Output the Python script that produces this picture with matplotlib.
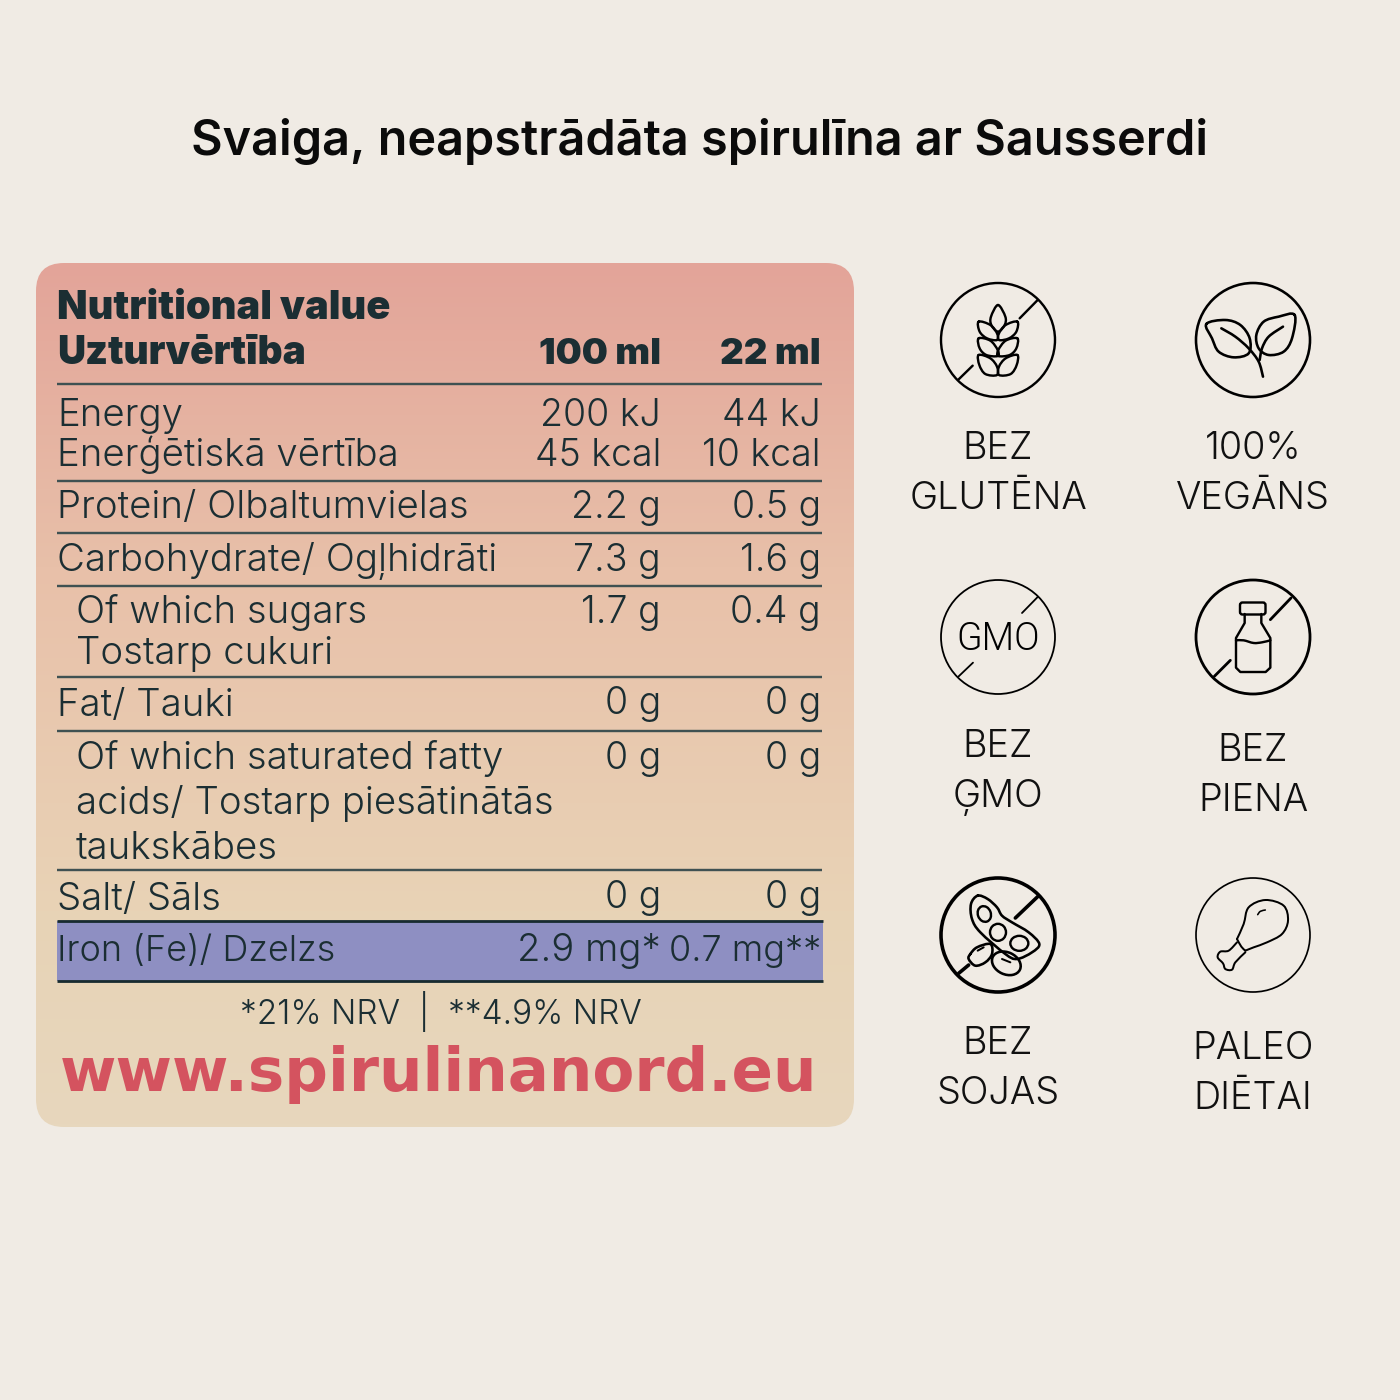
import numpy as np
import matplotlib
matplotlib.use("Agg")
import matplotlib.pyplot as plt
from matplotlib.patches import FancyBboxPatch, Circle, PathPatch, Ellipse, Rectangle
from matplotlib.path import Path
from matplotlib.colors import LinearSegmentedColormap

BG = "#F0EBE4"
INK = "#1B2E33"
RULE = "#3F5152"
BODY_FONT = "Inter"
PX = 0.72  # one image pixel in points

title = "Svaiga, neapstrādāta spirulīna ar Sausserdi"
header_lines = ["Nutritional value", "Uzturvērtība"]
header_cols = ["100 ml", "22 ml"]

row_labels = [
    (57, 426, "Energy"), (57, 466, "Enerģētiskā vērtība"),
    (57, 518, "Protein/ Olbaltumvielas"),
    (57, 571, "Carbohydrate/ Ogļhidrāti"),
    (76, 623, "Of which sugars"), (76, 664, "Tostarp cukuri"),
    (57, 716, "Fat/ Tauki"),
    (76, 769, "Of which saturated fatty"), (76, 814, "acids/ Tostarp piesātinātās"), (76, 859, "taukskābes"),
    (57, 910, "Salt/ Sāls"),
]
iron_label = "Iron (Fe)/ Dzelzs"
values_100 = [(426, "200 kJ"), (466, "45 kcal"), (518, "2.2 g"), (571, "7.3 g"), (623, "1.7 g"),
              (714, "0 g"), (769, "0 g"), (908, "0 g")]
values_22 = [(426, "44 kJ"), (466, "10 kcal"), (518, "0.5 g"), (571, "1.6 g"), (623, "0.4 g"),
             (714, "0 g"), (769, "0 g"), (908, "0 g")]
iron_values = ["2.9 mg*", "0.7 mg**"]
rule_rows = [384, 481, 533, 586, 677, 731, 870]
footnote = "*21% NRV  |  **4.9% NRV"
website = "www.spirulinanord.eu"

captions = [
    (998, 459, "BEZ"), (998, 509, "GLUTĒNA"),
    (1253, 459, "100%"), (1253, 509, "VEGĀNS"),
    (998, 757, "BEZ"), (998, 807, "ĢMO"),
    (1253, 761, "BEZ"), (1253, 811, "PIENA"),
    (998, 1054, "BEZ"), (998, 1104, "SOJAS"),
    (1253, 1059, "PALEO"), (1253, 1109, "DIĒTAI"),
]

fig = plt.figure(figsize=(14, 14), dpi=100, facecolor=BG)
ax = fig.add_axes([0, 0, 1, 1])
ax.set_xlim(0, 1400)
ax.set_ylim(1400, 0)
ax.axis("off")


def smooth(pts, closed=True):
    # catmull-rom through the outline points, gives a bezier path
    pts = np.array(pts, dtype=float)
    n = len(pts)
    verts = [pts[0]]
    codes = [Path.MOVETO]
    for i in range(n if closed else n - 1):
        if closed:
            p0, p1, p2, p3 = pts[(i - 1) % n], pts[i], pts[(i + 1) % n], pts[(i + 2) % n]
        else:
            p0, p1, p2, p3 = pts[max(i - 1, 0)], pts[i], pts[i + 1], pts[min(i + 2, n - 1)]
        verts += [p1 + (p2 - p0) / 6, p2 - (p3 - p1) / 6, p2]
        codes += [Path.CURVE4] * 3
    return Path(verts, codes)


def draw(cx, cy, pts, lw, closed=True, straight=False):
    # pts are measured from the icon centre at 3x zoom
    pts = [(cx + x / 3, cy + y / 3) for x, y in pts]
    path = Path(pts) if straight else smooth(pts, closed)
    ax.add_patch(PathPatch(path, fc="none", ec="black", lw=lw * PX, capstyle="round", joinstyle="round"))


def mirror(pts):
    return [(-x, y) for x, y in pts]


def badge(cx, cy, lw, slash=None, slash_lw=None):
    ax.add_patch(Circle((cx, cy), 57, fc="none", ec="black", lw=lw * PX))
    if slash:
        draw(cx, cy, slash[0], slash_lw or lw, straight=True)
        draw(cx, cy, slash[1], slash_lw or lw, straight=True)


# card with vertical gradient
cmap = LinearSegmentedColormap.from_list("card", [(0, "#E3A499"), (0.35, "#E8C0A9"), (0.75, "#E8D3B6"), (1, "#E7D7BD")])
grad = np.linspace(0, 1, 256).reshape(-1, 1)
card = FancyBboxPatch((36 + 28, 263 + 28), 818 - 56, 864 - 56, boxstyle="round,pad=28,rounding_size=28",
                      fc="none", ec="none")
ax.add_patch(card)
im = ax.imshow(grad, cmap=cmap, extent=(36, 854, 1127, 263), aspect="auto", zorder=0)
im.set_clip_path(card)
ax.set_xlim(0, 1400)
ax.set_ylim(1400, 0)

# iron highlight
ax.add_patch(Rectangle((57, 921), 766, 60, fc="#8E8FC2", ec="none", zorder=1))

ax.text(700, 155, title, fontsize=35, fontweight=600, family=BODY_FONT, ha="center", va="baseline", color="#0B0B0B")

ax.text(57, 319, header_lines[0], fontsize=28.6, fontweight=900, family=BODY_FONT, color=INK, va="baseline", zorder=3)
ax.text(57, 364, header_lines[1], fontsize=28, fontweight=900, family=BODY_FONT, color=INK, va="baseline", zorder=3)
ax.text(661, 364, header_cols[0], fontsize=26.5, fontweight=900, family=BODY_FONT, color=INK, ha="right", va="baseline", zorder=3)
ax.text(821, 364, header_cols[1], fontsize=26.5, fontweight=900, family=BODY_FONT, color=INK, ha="right", va="baseline", zorder=3)

for y in rule_rows:
    ax.plot([57, 822], [y, y], color=RULE, lw=2.4 * PX, solid_capstyle="butt", zorder=2)
for y in [921, 981]:
    ax.plot([57, 823], [y, y], color="#182B30", lw=2.8 * PX, solid_capstyle="butt", zorder=2)

for x, y, label in row_labels:
    ax.text(x, y, label, fontsize=27.6, fontweight=300, family=BODY_FONT, color=INK, va="baseline", zorder=3)
for y, val in values_100:
    ax.text(661, y, val, fontsize=27, fontweight=300, family=BODY_FONT, color=INK, ha="right", va="baseline", zorder=3)
for y, val in values_22:
    ax.text(821, y, val, fontsize=27, fontweight=300, family=BODY_FONT, color=INK, ha="right", va="baseline", zorder=3)

ax.text(57, 961, iron_label, fontsize=26, fontweight=300, family=BODY_FONT, color=INK, va="baseline", zorder=3)
ax.text(661, 961, iron_values[0], fontsize=27.5, fontweight=300, family=BODY_FONT, color=INK, ha="right", va="baseline", zorder=3)
ax.text(821, 961, iron_values[1], fontsize=26, fontweight=300, family=BODY_FONT, color=INK, ha="right", va="baseline", zorder=3)

ax.text(440.5, 1024, footnote, fontsize=24, fontweight=300, family=BODY_FONT, color=INK, ha="center", va="baseline", zorder=3)
ax.text(439, 1091, website, fontsize=44, fontweight="bold", family="DejaVu Sans", color="#D4535F", ha="center", va="baseline", zorder=3)

for x, y, cap in captions:
    ax.text(x, y, cap, fontsize=27.2, fontweight=300, family=BODY_FONT, color="#111111", ha="center", va="baseline")

# gluten free
slash_a = ([(-118, 118), (-76, 77)], [(65, -65), (119, -120)])
badge(998, 340, 2.4, slash_a)
draw(998, 340, [(0, -105), (22, -70), (20, -45), (0, -25), (-20, -45), (-21, -70)], 2.4)
for leaf in ([(-58, -55), (-23, -45), (-3, -20), (-3, 0), (-33, -5), (-55, -25)],
             [(-58, -5), (-23, 2), (-1, 30), (-1, 48), (-35, 45), (-55, 25)],
             [(-58, 45), (-23, 55), (-3, 80), (-3, 105), (-38, 102), (-56, 75)]):
    draw(998, 340, leaf, 2.4)
    draw(998, 340, mirror(leaf), 2.4)

# vegan
badge(1253, 340, 2.6)
draw(1253, 340, [(-140, -48), (-83, -60), (-38, -45), (-10, -5), (-13, 40), (-58, 52), (-103, 35), (-123, -5)], 2.6)
draw(1253, 340, [(125, -75), (117, -5), (92, 35), (47, 45), (17, 25), (10, -15), (32, -55), (77, -70)], 2.6)
draw(1253, 340, [(30, 110), (17, 65), (-13, 25), (-53, -10), (-95, -35)], 2.6, closed=False)
draw(1253, 340, [(20, 60), (27, 25), (47, -10), (90, -40)], 2.6, closed=False)

# gmo
slash_b = ([(-118, 118), (-75, 77)], [(72, -72), (119, -120)])
badge(998, 637, 1.8, slash_b)
ax.text(998, 650, "GMO", fontsize=27, fontweight=300, family="Roboto", color="black", ha="center", va="baseline")

# milk
slash_c = ([(-116, 118), (-68, 70)], [(52, -52), (114, -117)])
badge(1253, 637, 2.8, slash_c)
ax.add_patch(FancyBboxPatch((1240, 602.5), 25.5, 12, boxstyle="round,pad=0,rounding_size=2.5", fc="none", ec="black", lw=2.4 * PX))
draw(1253, 637, [(-25, -69), (-25, -42), (-51, 3), (-51, 92), (-38, 105), (38, 105), (52, 92), (52, 3), (25, -42), (25, -69)],
     2.4, straight=True)
draw(1253, 637, [(-51, 10), (-28, 10), (2, 18), (27, 16), (52, 10)], 2.4, closed=False)

# soy
slash_d = ([(-118, 115), (-88, 90)], [(52, -51), (119, -115)])
badge(998, 935, 3.6, slash_d)
draw(998, 935, [(-61, -118), (-31, -108), (-3, -83), (12, -58), (42, -38), (92, -8), (124, 27), (102, 52), (57, 72),
                (22, 57), (-53, -8), (-78, -48), (-81, -93)], 2.6)
ax.add_patch(Ellipse((998 - 41 / 3, 935 - 63 / 3), 13, 16, angle=-20, fc="none", ec="black", lw=2.4 * PX))
ax.add_patch(Ellipse((998, 935 - 8 / 3), 16, 17, fc="none", ec="black", lw=2.4 * PX))
ax.add_patch(Ellipse((998 + 64 / 3, 935 + 25 / 3), 18, 15, fc="none", ec="black", lw=2.4 * PX))
draw(998, 935, [(-83, 57), (-63, 37), (-23, 27), (-18, 57), (-38, 82), (-68, 92), (-88, 72)], 2.6)
ax.add_patch(Ellipse((998 + 25 / 3, 935 + 85 / 3), 30, 22, angle=25, fc="none", ec="black", lw=2.6 * PX))
draw(998, 935, [(-61, 47), (-43, 37)], 2, straight=True)
draw(998, 935, [(12, 72), (37, 82)], 2, straight=True)

# paleo
badge(1253, 935, 1.7)
draw(1253, 935, [(-48, 12), (-28, -33), (-13, -83), (37, -105), (92, -88), (105, -43), (87, -3), (42, 22), (2, 37), (-23, 47)], 2, closed=False)
draw(1253, 935, [(-48, 22), (-73, 47), (-98, 50), (-106, 67), (-90, 85), (-83, 102), (-63, 104), (-53, 82), (-23, 52)], 2, closed=False)
draw(1253, 935, [(-48, 12), (-35, 35), (-23, 47)], 2, closed=False)
draw(1253, 935, [(14, -61), (22, -71), (37, -75)], 1.6, closed=False)

fig.savefig("out.png", dpi=100, facecolor=BG)
